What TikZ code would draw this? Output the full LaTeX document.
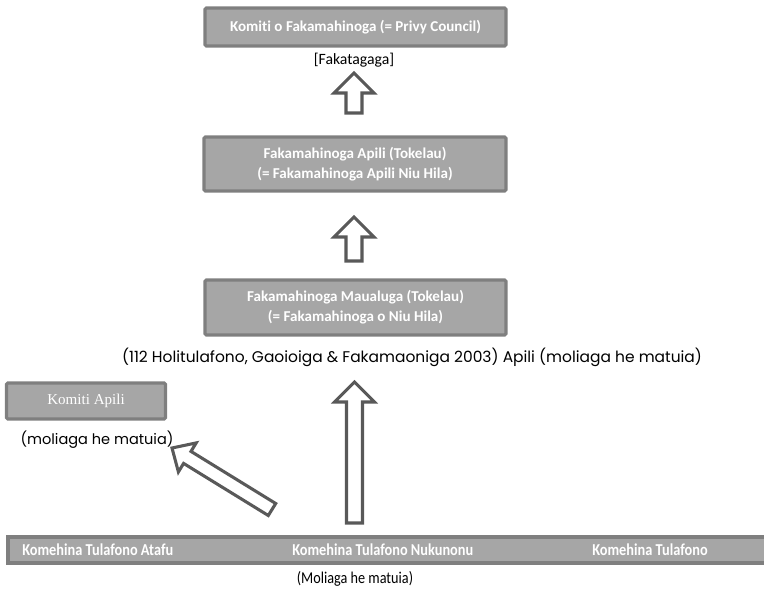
\documentclass[tikz,border=0pt]{standalone}
\usepackage{fontspec}
\setmainfont{Carlito}[Ligatures=NoCommon]
\newfontfamily\gothic{Poppins}
\newfontfamily\cambr{Liberation Serif}
\newfontfamily\narrowf[FakeStretch=0.86,Ligatures=NoCommon]{Carlito}
\definecolor{boxfill}{HTML}{A6A6A6}
\definecolor{boxline}{HTML}{7F7F7F}
\definecolor{arrline}{HTML}{595959}
\tikzset{
  gbox/.style={draw=boxline, fill=boxfill, line width=2.4pt, rounded corners=1pt,
    text=white, font=\bfseries\fontsize{11.3}{15}\selectfont, align=center, inner sep=0pt},
  bartext/.style={text=white, font=\narrowf\bfseries\fontsize{12.5}{14}\selectfont, anchor=west, inner sep=0pt},
  blockarrow/.style={draw=arrline, fill=white, line width=2.3pt, line join=miter},
  note/.style={text=black, inner sep=0pt, align=center},
}
\newcommand\uparr[3]{%
  \draw[blockarrow] ({#1-8},{#3}) -- ({#1-8},{#2+20}) -- ({#1-20},{#2+20}) -- ({#1},{#2})
    -- ({#1+20},{#2+20}) -- ({#1+8},{#2+20}) -- ({#1+8},{#3}) -- cycle;}
\begin{document}
\begin{tikzpicture}[x=0.75pt,y=-0.75pt]
\useasboundingbox (0,0) rectangle (764,593);
% boxes
\node[gbox, minimum width=225.75pt, minimum height=28.5pt] (privy) at (355.5,27)
  {Komiti o Fakamahinoga (= Privy Council)};
\node[note, font=\fontsize{11.8}{13}\selectfont] (fakat) at (354,60) {[Fakatagaga]};
\node[gbox, minimum width=226.5pt, minimum height=40.5pt] (apili) at (355,164)
  {Fakamahinoga Apili (Tokelau)\\(= Fakamahinoga Apili Niu Hila)};
\node[gbox, minimum width=225.75pt, minimum height=41.25pt] (maua) at (355.5,307.5)
  {Fakamahinoga Maualuga (Tokelau)\\(= Fakamahinoga o Niu Hila)};
\node[note, font=\gothic\fontsize{11.6}{13}\selectfont] (law) at (412,357)
  {(112 Holitulafono, Gaoioiga \& Fakamaoniga 2003) Apili (moliaga he matuia)};
\node[gbox, font=\cambr\fontsize{11.3}{13}\selectfont, minimum width=119.25pt, minimum height=27pt] (komiti) at (86,401)
  {Komiti Apili};
\node[note, font=\gothic\fontsize{10.9}{12}\selectfont] (mol1) at (97,440) {(moliaga he matuia)};
% bottom bar
\node[gbox, rounded corners=0pt, minimum width=573pt, minimum height=19.5pt] (bar) at (390,550) {};
\node[bartext] (atafu) at (22,550) {Komehina Tulafono Atafu};
\node[bartext] (nuku) at (292,550) {Komehina Tulafono Nukunonu};
\node[bartext] (fak) at (592,550) {Komehina Tulafono};
\node[note, font=\narrowf\fontsize{12.4}{14}\selectfont] (mol2) at (355,579) {(Moliaga he matuia)};
% arrows
\uparr{354}{73}{113}
\uparr{354}{217}{261}
\uparr{354.5}{382}{523}
% diagonal arrow
\coordinate (dtip) at (172,448);
\draw[blockarrow] (dtip) -- (196.2,442.9) -- (191.0,451.4) -- (275.7,503.5)
  -- (268.3,515.5) -- (183.6,463.4) -- (178.4,471.9) -- cycle;
\end{tikzpicture}
\end{document}
